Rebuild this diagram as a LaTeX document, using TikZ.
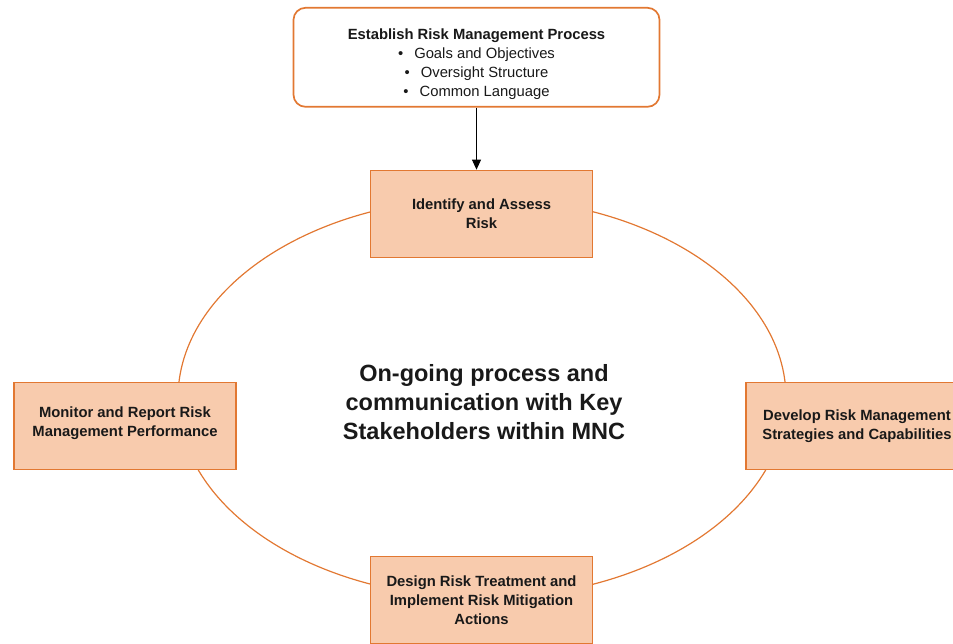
\documentclass[tikz,border=0pt]{standalone}
\usepackage{fontspec}
\setmainfont{Liberation Sans}
\usepackage{xcolor}
\usepackage{tikz}
\usetikzlibrary{arrows.meta,positioning}
\definecolor{corlaranja}{RGB}{226,120,50}
\definecolor{corpessego}{RGB}{248,203,173}
\definecolor{cortexto}{RGB}{25,25,25}

\begin{document}
\begin{tikzpicture}[
  x=1pt, y=-1pt,
  etapa/.style={rectangle, draw=corlaranja, line width=1.7pt, fill=corpessego,
                minimum width=222pt, minimum height=87pt, inner sep=2pt,
                align=center, text=cortexto, font=\fontsize{14.8}{19}\selectfont\bfseries},
  inicio/.style={rectangle, draw=corlaranja, line width=1.7pt, rounded corners=12pt,
                 fill=white, minimum width=366pt, minimum height=99pt,
                 align=center, text=cortexto, font=\fontsize{14.8}{19}\selectfont},
  ciclo/.style={draw=corlaranja, line width=1.2pt},
  seta/.style={-{Triangle[length=10pt,width=9pt]}, line width=0.8pt, color=black}
]
  \useasboundingbox (0,0) rectangle (953,643);
  \coordinate (meio) at (482,398);
  \draw[ciclo] (meio) ellipse [x radius=304pt, y radius=200pt];

  \node[etapa] (identificar) at (481.5,214) {Identify and Assess\\ Risk};
  \node[etapa] (desenvolver) at (857,426) {Develop Risk Management\\ Strategies and Capabilities};
  \node[etapa] (tratar) at (481.5,600) {Design Risk Treatment and\\ Implement Risk Mitigation\\ Actions};
  \node[etapa] (monitorar) at (125,426) {Monitor and Report Risk\\ Management Performance\rule[-8pt]{0pt}{0pt}};
  \node[inicio, above=62pt of identificar, xshift=-5pt] (estabelecer)
    {\rule{0pt}{24.5pt}\textbf{Establish Risk Management Process}\\
     \textbullet\hspace{11pt}Goals and Objectives\\
     \textbullet\hspace{11pt}Oversight Structure\\
     \textbullet\hspace{11pt}Common Language};
  \node[font=\fontsize{23.5}{29}\selectfont\bfseries, align=center, text=cortexto] (centro) at (484,402)
    {On-going process and\\ communication with Key\\ Stakeholders within MNC};

  \draw[seta] (estabelecer) -- (estabelecer |- identificar.north);
\end{tikzpicture}
\end{document}
